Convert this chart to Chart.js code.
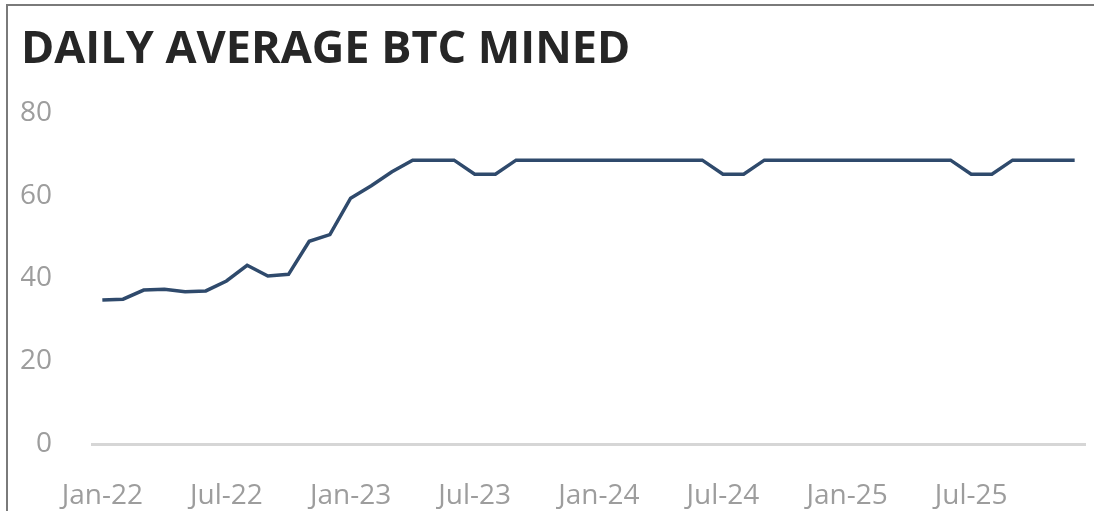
<!DOCTYPE html>
<html>
<head>
<meta charset="utf-8">
<script src="https://cdn.jsdelivr.net/npm/chart.js@4/dist/chart.umd.min.js"></script>
<style>
    html, body { margin: 0; padding: 0; background: #fff; }
    #wrap { position: relative; width: 1094px; height: 511px; }
    #frame {
        position: absolute; left: 6px; top: 4px; right: 0; bottom: 0;
        border-left: 2px solid #7a7a7a; border-top: 2px solid #7a7a7a;
        pointer-events: none;
    }
</style>
</head>
<body>
<div id="wrap">
    <canvas id="chart" width="1094" height="511"></canvas>
    <div id="frame"></div>
</div>
<script>
const months = [
    'Jan-22', 'Feb-22', 'Mar-22', 'Apr-22', 'May-22', 'Jun-22', 'Jul-22', 'Aug-22', 'Sep-22', 'Oct-22', 'Nov-22', 'Dec-22',
    'Jan-23', 'Feb-23', 'Mar-23', 'Apr-23', 'May-23', 'Jun-23', 'Jul-23', 'Aug-23', 'Sep-23', 'Oct-23', 'Nov-23', 'Dec-23',
    'Jan-24', 'Feb-24', 'Mar-24', 'Apr-24', 'May-24', 'Jun-24', 'Jul-24', 'Aug-24', 'Sep-24', 'Oct-24', 'Nov-24', 'Dec-24',
    'Jan-25', 'Feb-25', 'Mar-25', 'Apr-25', 'May-25', 'Jun-25', 'Jul-25', 'Aug-25', 'Sep-25', 'Oct-25', 'Nov-25', 'Dec-25'
];
const btcMined = [
    34.8, 35.0, 37.2, 37.4, 36.8, 37.0, 39.4, 43.2, 40.6, 41.0, 49.0, 50.6,
    59.4, 62.4, 65.8, 68.6, 68.6, 68.6, 65.2, 65.2, 68.6, 68.6, 68.6, 68.6,
    68.6, 68.6, 68.6, 68.6, 68.6, 68.6, 65.2, 65.2, 68.6, 68.6, 68.6, 68.6,
    68.6, 68.6, 68.6, 68.6, 68.6, 68.6, 65.2, 65.2, 68.6, 68.6, 68.6, 68.6
];
const tickLabels = ['Jan-22', 'Jul-22', 'Jan-23', 'Jul-23', 'Jan-24', 'Jul-24', 'Jan-25', 'Jul-25'];

const tickFont = { family: 'Open Sans', size: 28 };
const tickColor = '#9d9d9d';

new Chart(document.getElementById('chart').getContext('2d'), {
    type: 'line',
    data: {
        labels: months,
        datasets: [{
            label: 'Daily average BTC mined',
            data: btcMined,
            borderColor: '#2f4a6c',
            borderWidth: 3.5,
            pointRadius: 0,
            tension: 0,
            fill: false
        }]
    },
    options: {
        responsive: false,
        animation: false,
        layout: {
            padding: { left: 21, right: 9, top: 0, bottom: 0 }
        },
        plugins: {
            legend: { display: false },
            tooltip: { enabled: false },
            title: {
                display: true,
                text: 'DAILY AVERAGE BTC MINED',
                align: 'start',
                color: '#262626',
                font: { family: 'Open Sans', size: 45, weight: 'bold' },
                padding: { top: 23, bottom: 36 }
            }
        },
        scales: {
            x: {
                offset: true,
                grid: { display: false },
                border: { display: true, color: '#d6d6d6', width: 3 },
                ticks: {
                    autoSkip: false,
                    maxRotation: 0,
                    padding: 27,
                    color: tickColor,
                    font: tickFont,
                    callback: function(value) {
                        const lbl = this.getLabelForValue(value);
                        return tickLabels.includes(lbl) ? lbl : '';
                    }
                },
                afterFit: function(scale) {
                    scale.height = 67;
                    scale.paddingLeft = 0;
                    scale.paddingRight = 0;
                }
            },
            y: {
                min: 0,
                max: 80,
                grid: { display: false },
                border: { display: false },
                ticks: {
                    stepSize: 20,
                    padding: 32,
                    color: tickColor,
                    font: tickFont
                },
                afterFit: function(scale) { scale.width = 71; }
            }
        }
    }
});
</script>
</body>
</html>
